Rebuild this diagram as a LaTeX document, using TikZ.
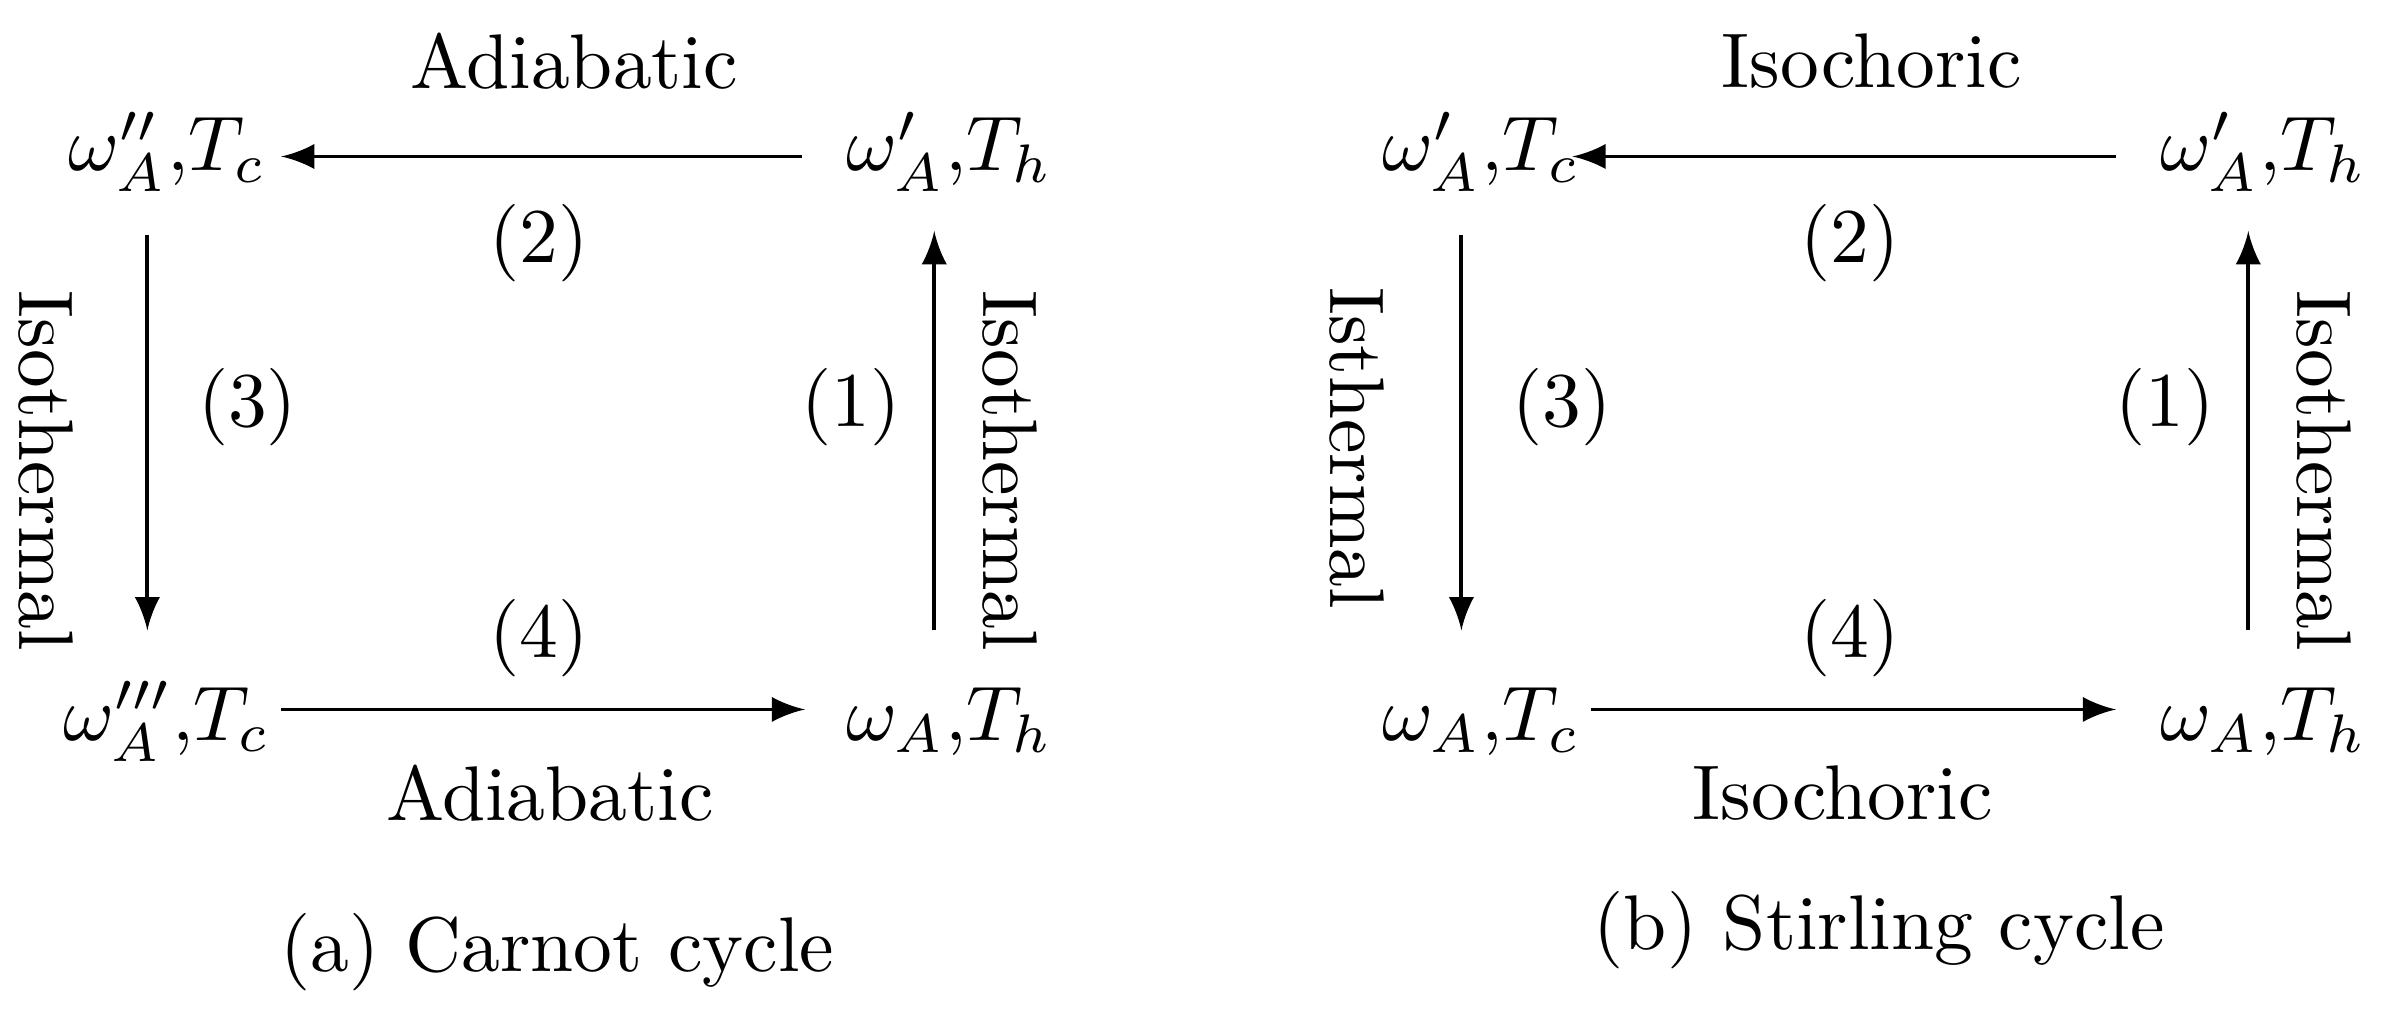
\documentclass[tikz,border=0pt]{standalone}
\begin{document}
\begin{tikzpicture}[x=0.196pt,y=-0.196pt,
  arr/.style={-latex, line width=0.5pt},
  lbl/.style={inner sep=0pt}]
\useasboundingbox (0,0) rectangle (1568,666);
% (a)
\node[lbl] (a1) at (110,100) {$\omega''_A{,}T_c$};
\node[lbl] (a2) at (625,100) {$\omega'_A{,}T_h$};
\node[lbl] (a3) at (110,475) {$\omega'''_A{,}T_c$};
\node[lbl] (a4) at (625,475) {$\omega_A{,}T_h$};
\coordinate (at1) at (528,103); \coordinate (at2) at (185,103);
\coordinate (al1) at (97,155); \coordinate (al2) at (97,415);
\coordinate (ar1) at (615,415); \coordinate (ar2) at (615,152);
\coordinate (ab1) at (185,467); \coordinate (ab2) at (530,467);
\draw[arr] (at1) -- (at2);
\draw[arr] (al1) -- (al2);
\draw[arr] (ar1) -- (ar2);
\draw[arr] (ab1) -- (ab2);
\node[lbl] (aA1) at (378,40) {Adiabatic};
\node[lbl] (a2l) at (355,160) {(2)};
\node[lbl] (a3l) at (163,268) {(3)};
\node[lbl] (a1l) at (560,268) {(1)};
\node[lbl,rotate=-90] (aI1) at (30,310) {Isothermal};
\node[lbl,rotate=-90] (aI2) at (665,310) {Isothermal};
\node[lbl] (a4l) at (355,420) {(4)};
\node[lbl] (aA2) at (362,522) {Adiabatic};
\node[lbl] (acap) at (367,627) {(a) Carnot cycle};
% (b)
\node[lbl] (b1) at (975,100) {$\omega'_A{,}T_c$};
\node[lbl] (b2) at (1490,100) {$\omega'_A{,}T_h$};
\node[lbl] (b3) at (975,475) {$\omega_A{,}T_c$};
\node[lbl] (b4) at (1490,475) {$\omega_A{,}T_h$};
\coordinate (bt1) at (1393,103); \coordinate (bt2) at (1035,103);
\coordinate (bl1) at (962,155); \coordinate (bl2) at (962,415);
\coordinate (br1) at (1480,415); \coordinate (br2) at (1480,152);
\coordinate (bb1) at (1047,467); \coordinate (bb2) at (1393,467);
\draw[arr] (bt1) -- (bt2);
\draw[arr] (bl1) -- (bl2);
\draw[arr] (br1) -- (br2);
\draw[arr] (bb1) -- (bb2);
\node[lbl] (bA1) at (1232,40) {Isochoric};
\node[lbl] (b2l) at (1218,160) {(2)};
\node[lbl] (b3l) at (1028,268) {(3)};
\node[lbl] (b1l) at (1425,268) {(1)};
\node[lbl,rotate=-90] (bI1) at (893,295) {Isthermal};
\node[lbl,rotate=-90] (bI2) at (1530,310) {Isothermal};
\node[lbl] (b4l) at (1218,420) {(4)};
\node[lbl] (bA2) at (1213,522) {Isochoric};
\node[lbl] (bcap) at (1237,612) {(b) Stirling cycle};
\end{tikzpicture}
\end{document}
